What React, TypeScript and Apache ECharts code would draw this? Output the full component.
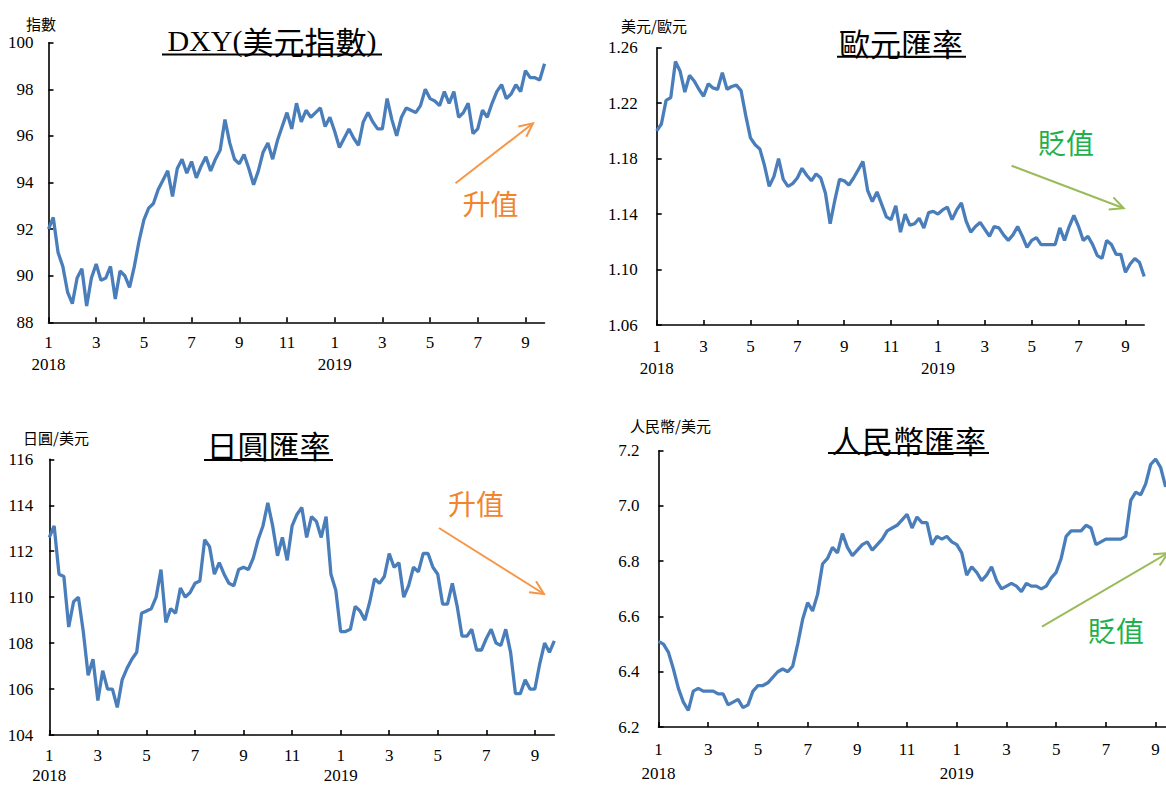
import React, { useEffect, useRef } from "react";
import * as echarts from "echarts";

// ---- data: one value every ~0.2 month, Jan 2018 .. late Sep 2019 ----
const DXY: number[] = [
  92.0, 92.5, 91.0, 90.4, 89.3, 88.8, 89.9, 90.3, 88.7, 89.9,
  90.5, 89.8, 89.9, 90.4, 89.0, 90.2, 90.0, 89.5, 90.4, 91.5,
  92.4, 92.9, 93.1, 93.7, 94.1, 94.5, 93.4, 94.6, 95.0, 94.4,
  94.9, 94.2, 94.7, 95.1, 94.5, 95.0, 95.4, 96.7, 95.7, 95.0,
  94.8, 95.2, 94.6, 93.9, 94.5, 95.3, 95.7, 95.0, 95.8, 96.4,
  97.0, 96.3, 97.4, 96.6, 97.1, 96.8, 97.0, 97.2, 96.4, 96.8,
  96.2, 95.5, 95.9, 96.3, 95.9, 95.6, 96.6, 97.0, 96.6, 96.3,
  96.3, 97.6, 96.7, 96.0, 96.8, 97.2, 97.1, 97.0, 97.3, 98.0,
  97.6, 97.5, 97.3, 97.9, 97.4, 97.9, 96.8, 97.0, 97.4, 96.1,
  96.3, 97.1, 96.8, 97.4, 97.9, 98.2, 97.6, 97.8, 98.2, 97.9,
  98.8, 98.5, 98.5, 98.4, 99.1,
];

const EUR: number[] = [
  1.200, 1.205, 1.222, 1.224, 1.250, 1.243, 1.228, 1.240, 1.236, 1.230,
  1.225, 1.234, 1.231, 1.230, 1.242, 1.230, 1.232, 1.233, 1.229, 1.211,
  1.195, 1.190, 1.187, 1.175, 1.160, 1.167, 1.180, 1.165, 1.160, 1.162,
  1.166, 1.173, 1.168, 1.164, 1.169, 1.166, 1.155, 1.133, 1.150, 1.165,
  1.164, 1.161, 1.166, 1.172, 1.178, 1.157, 1.149, 1.156, 1.147, 1.138,
  1.136, 1.146, 1.127, 1.140, 1.132, 1.133, 1.137, 1.130, 1.141, 1.142,
  1.140, 1.143, 1.145, 1.136, 1.143, 1.148, 1.135, 1.127, 1.131, 1.134,
  1.129, 1.124, 1.131, 1.130, 1.125, 1.121, 1.125, 1.131, 1.124, 1.116,
  1.121, 1.123, 1.118, 1.118, 1.118, 1.118, 1.130, 1.121, 1.131, 1.139,
  1.131, 1.121, 1.124, 1.118, 1.110, 1.108, 1.121, 1.118, 1.111, 1.111,
  1.098, 1.104, 1.108, 1.105, 1.095,
];

const JPY: number[] = [
  112.6, 113.1, 111.0, 110.9, 108.7, 109.8, 110.0, 108.5, 106.6, 107.3,
  105.5, 106.8, 106.0, 106.0, 105.2, 106.4, 106.9, 107.3, 107.6, 109.3,
  109.4, 109.5, 110.0, 111.2, 108.9, 109.5, 109.3, 110.4, 110.0, 110.2,
  110.6, 110.7, 112.5, 112.2, 111.0, 111.5, 111.0, 110.6, 110.5, 111.2,
  111.3, 111.2, 111.7, 112.5, 113.1, 114.1, 113.1, 111.8, 112.6, 111.6,
  113.1, 113.6, 113.9, 112.6, 113.5, 113.3, 112.6, 113.5, 111.0, 110.3,
  108.5, 108.5, 108.6, 109.6, 109.4, 109.0, 109.8, 110.8, 110.6, 110.9,
  111.9, 111.3, 111.5, 110.0, 110.5, 111.3, 111.1, 111.9, 111.9, 111.3,
  111.0, 109.7, 109.7, 110.6, 109.6, 108.3, 108.3, 108.6, 107.7, 107.7,
  108.2, 108.6, 108.0, 107.9, 108.6, 107.6, 105.8, 105.8, 106.4, 106.0,
  106.0, 107.1, 108.0, 107.6, 108.1,
];

const CNY: number[] = [
  6.51, 6.50, 6.47, 6.41, 6.34, 6.29, 6.26, 6.33, 6.34, 6.33,
  6.33, 6.33, 6.32, 6.32, 6.28, 6.29, 6.30, 6.27, 6.28, 6.33,
  6.35, 6.35, 6.36, 6.38, 6.40, 6.41, 6.40, 6.42, 6.50, 6.59,
  6.65, 6.62, 6.68, 6.79, 6.81, 6.85, 6.83, 6.90, 6.85, 6.82,
  6.84, 6.86, 6.87, 6.84, 6.86, 6.88, 6.91, 6.92, 6.93, 6.95,
  6.97, 6.92, 6.96, 6.94, 6.94, 6.86, 6.89, 6.88, 6.89, 6.87,
  6.86, 6.83, 6.75, 6.78, 6.76, 6.73, 6.75, 6.78, 6.73, 6.70,
  6.71, 6.72, 6.71, 6.69, 6.72, 6.71, 6.71, 6.70, 6.71, 6.74,
  6.76, 6.81, 6.89, 6.91, 6.91, 6.91, 6.93, 6.92, 6.86, 6.87,
  6.88, 6.88, 6.88, 6.88, 6.89, 7.02, 7.05, 7.04, 7.08, 7.15,
  7.17, 7.14, 7.07, 7.10, 7.12,
];

// categories: five sample points per month, Jan 2018 .. Sep 2019
const CATEGORIES: string[] = [];
for (let i = 0; i < DXY.length; i++) {
  const m = Math.floor(i / 5);
  CATEGORIES.push(`${2018 + Math.floor(m / 12)}-${(m % 12) + 1}-${i % 5}`);
}

const TITLES = ["DXY(美元指數)", "歐元匯率", "日圓匯率", "人民幣匯率"];
const UNITS = ["指數", "美元/歐元", "日圓/美元", "人民幣/美元"];
const Y_MIN = [88, 1.06, 104, 6.2];
const Y_MAX = [100, 1.26, 116, 7.2];
const Y_STEP = [2, 0.04, 2, 0.2];
const Y_DEC = [0, 2, 0, 1];
const SERIES = [DXY, EUR, JPY, CNY];
const NOTE_UP = "升值";
const NOTE_DOWN = "貶值";

// ---- layout ----
const GRIDS = [
  { left: 48.5, top: 42.7, width: 496, height: 279.6, margin: 15, xMargin: 9, lh: 22 },
  { left: 656.7, top: 47.7, width: 487.5, height: 277.3, margin: 19, xMargin: 10, lh: 22 },
  { left: 49.3, top: 459.3, width: 505, height: 277.4, margin: 16, xMargin: 10, lh: 20 },
  { left: 658.5, top: 450.7, width: 517, height: 280, margin: 19, xMargin: 10, lh: 24 },
];

const CHART_W = 1200; // wider than the page; the right-most panel is cut at 1166 like the reference
const SERIF = '"Liberation Serif", "Times New Roman", serif';
const CJK = '"Noto Sans CJK TC", "Noto Sans CJK SC", sans-serif';
const BLUE = "#4A7EBB";

function arrow(x1: number, y1: number, x2: number, y2: number, color: string) {
  const ang = Math.atan2(y2 - y1, x2 - x1);
  const L = 15;
  const sp = 0.45;
  const p1 = [x2 - L * Math.cos(ang - sp), y2 - L * Math.sin(ang - sp)];
  const p2 = [x2 - L * Math.cos(ang + sp), y2 - L * Math.sin(ang + sp)];
  return [
    { type: "line", shape: { x1, y1, x2, y2 }, style: { stroke: color, lineWidth: 2 }, silent: true },
    { type: "polyline", shape: { points: [p1, [x2, y2], p2] }, style: { stroke: color, lineWidth: 2, fill: null }, silent: true },
  ];
}

function titleEl(text: string, cx: number, cy: number, ux1: number, ux2: number, uy: number, rich?: boolean) {
  const els: any[] = [];
  if (rich) {
    els.push({
      type: "text",
      x: cx,
      y: cy,
      silent: true,
      style: {
        text: "{a|DXY(}{b|美元指數}{a|)}",
        align: "center",
        verticalAlign: "middle",
        fill: "#000",
        rich: {
          a: { font: `30px ${SERIF}`, fill: "#000" },
          b: { font: `31px ${CJK}`, fill: "#000" },
        },
      },
    });
  } else {
    els.push({
      type: "text",
      x: cx,
      y: cy,
      silent: true,
      style: { text, font: `31px ${CJK}`, fill: "#000", align: "center", verticalAlign: "middle" },
    });
  }
  els.push({ type: "line", shape: { x1: ux1, y1: uy, x2: ux2, y2: uy }, style: { stroke: "#000", lineWidth: 2 }, silent: true });
  return els;
}

function unitEl(text: string, x: number, y: number) {
  return {
    type: "text",
    x,
    y,
    silent: true,
    style: { text, font: `15px ${CJK}`, fill: "#000", align: "left", verticalAlign: "middle" },
  };
}

function noteEl(text: string, cx: number, cy: number, color: string) {
  return {
    type: "text",
    x: cx,
    y: cy,
    silent: true,
    style: { text, font: `28px ${CJK}`, fill: color, align: "center", verticalAlign: "middle" },
  };
}

export default function App() {
  const ref = useRef<HTMLDivElement>(null);

  useEffect(() => {
    if (!ref.current) return;
    const chart = echarts.init(ref.current, null, { renderer: "svg", width: CHART_W, height: 785 });

    const grid = GRIDS.map((g) => ({ left: g.left, top: g.top, width: g.width, height: g.height, containLabel: false }));

    const xAxis = GRIDS.map((g, k) => ({
      type: "category",
      gridIndex: k,
      data: CATEGORIES,
      boundaryGap: false,
      axisLine: { show: true, lineStyle: { color: "#000", width: 1.6 } },
      axisTick: {
        show: true,
        inside: true,
        length: 5,
        interval: (i: number) => i % 10 === 0,
        lineStyle: { color: "#000", width: 1.6 },
      },
      axisLabel: {
        interval: 0,
        margin: g.xMargin,
        color: "#000",
        fontFamily: SERIF,
        fontSize: 17,
        lineHeight: g.lh,
        formatter: (_v: string, i: number) => {
          if (i % 10 !== 0) return "";
          const m = i / 5;
          const month = (m % 12) + 1;
          return month === 1 ? `${month}\n${2018 + Math.floor(m / 12)}` : `${month}`;
        },
      },
      splitLine: { show: false },
    }));

    const yAxis = GRIDS.map((g, k) => ({
      type: "value",
      gridIndex: k,
      min: Y_MIN[k],
      max: Y_MAX[k],
      interval: Y_STEP[k],
      axisLine: { show: true, lineStyle: { color: "#000", width: 1.6 } },
      axisTick: { show: true, inside: true, length: 5, lineStyle: { color: "#000", width: 1.6 } },
      axisLabel: {
        margin: g.margin,
        color: "#000",
        fontFamily: SERIF,
        fontSize: 17,
        formatter: (v: number) => v.toFixed(Y_DEC[k]),
      },
      splitLine: { show: false },
    }));

    const series = SERIES.map((d, k) => ({
      type: "line",
      xAxisIndex: k,
      yAxisIndex: k,
      data: d,
      showSymbol: false,
      symbol: "none",
      lineStyle: { color: BLUE, width: 3.3 },
      itemStyle: { color: BLUE },
      silent: true,
    }));

    const graphic: any[] = [
      ...titleEl(TITLES[0], 272, 40, 162, 382, 54.5, true),
      ...titleEl(TITLES[1], 901, 42, 837, 966, 56.7),
      ...titleEl(TITLES[2], 268.5, 444, 204, 333, 460),
      ...titleEl(TITLES[3], 908.5, 439, 828, 989, 453),
      unitEl(UNITS[0], 26, 23),
      unitEl(UNITS[1], 621, 25),
      unitEl(UNITS[2], 23, 437),
      unitEl(UNITS[3], 630, 425),
      noteEl(NOTE_UP, 490.5, 203, "#F0852D"),
      ...arrow(455.5, 183.3, 533, 123.3, "#F79646"),
      noteEl(NOTE_DOWN, 1066, 141.5, "#1FB04B"),
      ...arrow(1011.6, 165.7, 1123.7, 208.3, "#9BBB59"),
      noteEl(NOTE_UP, 476, 503, "#F0852D"),
      ...arrow(439, 528, 544, 594, "#F79646"),
      noteEl(NOTE_DOWN, 1116, 630, "#1FB04B"),
      ...arrow(1042, 626.7, 1168, 553, "#9BBB59"),
    ];

    chart.setOption({
      animation: false,
      backgroundColor: "#fff",
      grid,
      xAxis,
      yAxis,
      series,
      graphic,
    });

    return () => chart.dispose();
  }, []);

  return (
    <div style={{ position: "absolute", left: 0, top: 0, width: 1166, height: 785, overflow: "hidden", background: "#fff" }}>
      <div ref={ref} style={{ width: CHART_W, height: 785 }} />
    </div>
  );
}
